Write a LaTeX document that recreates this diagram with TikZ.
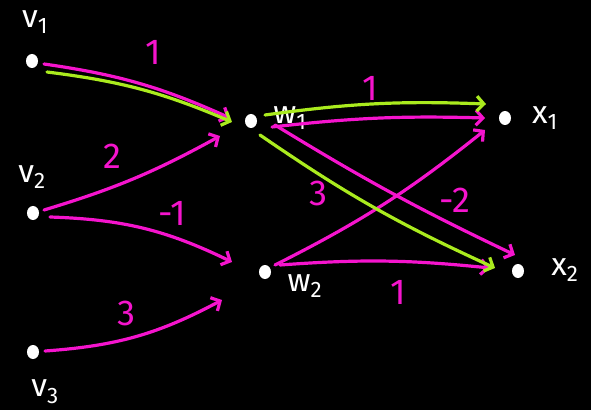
\documentclass[tikz,border=0pt]{standalone}
\usepackage{fontspec}
\setmainfont{Fira Sans}
\usetikzlibrary{arrows.meta, shapes.geometric}
\definecolor{edgePink}{RGB}{245, 20, 205}
\definecolor{pathGreen}{RGB}{170, 235, 30}

\begin{document}
\begin{tikzpicture}[x=1pt, y=1pt, >={Straight Barb[length=7pt, width=15pt]},
    line width=3.2pt, line cap=round]
  \tikzset{dot/.style={ellipse, fill=white, inner sep=0pt, minimum width=12pt, minimum height=14pt},
           vlab/.style={text=white, inner sep=0pt, font=\fontsize{32}{34}\selectfont},
           wt/.style={text=edgePink, inner sep=0pt, font=\fontsize{36}{38}\selectfont},
           pinkarr/.style={->, draw=edgePink},
           greenarr/.style={->, draw=pathGreen}}
  \fill[black] (0,0) rectangle (591,410);
  \useasboundingbox (0,0) rectangle (591,410);

  % layer nodes
  \node[dot] (v1) at (32,349) {};
  \node[dot] (v2) at (33,197) {};
  \node[dot] (v3) at (33,58) {};
  \node[dot] (w1) at (251,289) {};
  \node[dot] (w2) at (265,138) {};
  \node[dot] (x1) at (505,292) {};
  \node[dot] (x2) at (518,139) {};

  \node[vlab] (v1lab) at (35,388) {v\textsubscript{1}};
  \node[vlab] (v2lab) at (32,233) {v\textsubscript{2}};
  \node[vlab] (v3lab) at (45,18) {v\textsubscript{3}};
  \node[vlab] (w1lab) at (290,292) {w\textsubscript{1}};
  \node[vlab] (w2lab) at (305,124) {w\textsubscript{2}};
  \node[vlab] (x1lab) at (545,292) {x\textsubscript{1}};
  \node[vlab] (x2lab) at (565,140) {x\textsubscript{2}};

  % weighted edges
  \draw[pinkarr] ([shift={(12pt,-3pt)}]v1.center) to[bend left=8] ([shift={(-21pt,3pt)}]w1.center);
  \draw[pinkarr] ([shift={(11pt,3pt)}]v2.center) to[bend right=6] ([shift={(-31pt,-15pt)}]w1.center);
  \draw[pinkarr] ([shift={(17pt,-4pt)}]v2.center) to[bend left=12] ([shift={(-33pt,10pt)}]w2.center);
  \draw[pinkarr] ([shift={(12pt,1pt)}]v3.center) to[bend right=12] ([shift={(-43pt,-28pt)}]w2.center);
  \draw[pinkarr] ([shift={(21pt,-6pt)}]w1.center) to[bend left=4] ([shift={(-20pt,0pt)}]x1.center);
  \draw[pinkarr] ([shift={(24pt,-4pt)}]w1.center) to[bend right=3] ([shift={(-3pt,16pt)}]x2.center);
  \draw[pinkarr] ([shift={(10pt,7pt)}]w2.center) to[bend right=6] ([shift={(-20pt,-12pt)}]x1.center);
  \draw[pinkarr] ([shift={(15pt,7pt)}]w2.center) to[bend left=5] ([shift={(-28pt,3pt)}]x2.center);

  % highlighted path
  \draw[greenarr] ([shift={(15pt,-11pt)}]v1.center) to[bend left=8] ([shift={(-19pt,-1pt)}]w1.center);
  \draw[greenarr] ([shift={(14pt,6pt)}]w1.center) to[bend left=5] ([shift={(-19pt,14pt)}]x1.center);
  \draw[greenarr] ([shift={(9pt,-14pt)}]w1.center) to[bend right=5] ([shift={(-23pt,3pt)}]x2.center);

  % weights
  \node[wt] (a11) at (153,358) {1};
  \node[wt] (a21) at (112,254) {2};
  \node[wt] (a22) at (172,197) {-1};
  \node[wt] (a32) at (126,97) {3};
  \node[wt] (b11) at (370,322) {1};
  \node[wt] (b21) at (318,217) {3};
  \node[wt] (b12) at (455,210) {-2};
  \node[wt] (b22) at (398,118) {1};
\end{tikzpicture}
\end{document}
